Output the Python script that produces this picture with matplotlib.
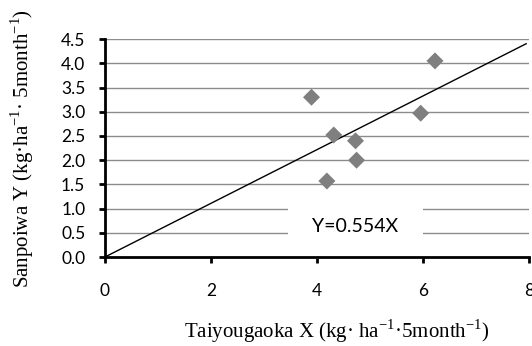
import matplotlib
matplotlib.use("Agg")
import matplotlib.pyplot as plt
import numpy as np

# data
taiyougaoka_x = [3.90, 4.32, 4.73, 4.75, 4.19, 5.96, 6.23]
sanpoiwa_y = [3.30, 2.52, 2.40, 2.00, 1.57, 2.97, 4.05]
slope = 0.554
line_x = [0.0, 7.95]
y_ticks = [0.0, 0.5, 1.0, 1.5, 2.0, 2.5, 3.0, 3.5, 4.0, 4.5]
x_ticks = [0, 2, 4, 6, 8]

plt.rcParams["mathtext.fontset"] = "custom"
plt.rcParams["mathtext.rm"] = "Liberation Serif"

fig = plt.figure(figsize=(5.32, 3.46), dpi=100)
ax = fig.add_axes([0.197, 0.257, 0.797, 0.63])

ax.set_xlim(0, 8)
ax.set_ylim(0, 4.5)

for yv in y_ticks[1:]:
    ax.axhline(yv, color="#8c8c8c", lw=1.0, zorder=1)

lx = np.array(line_x)
ax.plot(lx, slope * lx, color="black", lw=1.0, zorder=3)

ax.scatter(taiyougaoka_x, sanpoiwa_y, marker="D", s=75, color="#7f7f7f",
           edgecolors="none", zorder=4)

# equation label, white box hides the gridlines behind it
ax.text(4.73, 0.64, "Y=0.554X", ha="center", va="center", fontsize=14,
        family="Lato", zorder=5,
        bbox=dict(boxstyle="square,pad=1.25", fc="white", ec="none"))

ax.set_xticks(x_ticks)
ax.set_yticks(y_ticks)
ax.set_yticklabels(["%.1f" % v for v in y_ticks])
for lab in ax.get_xticklabels() + ax.get_yticklabels():
    lab.set_family("Lato")
    lab.set_fontsize(12.5)

ax.tick_params(axis="both", direction="out", length=4, width=2, color="black")
ax.tick_params(axis="x", pad=15)
ax.tick_params(axis="y", pad=10)

for s in ["top", "right"]:
    ax.spines[s].set_visible(False)
for s in ["left", "bottom"]:
    ax.spines[s].set_linewidth(2)
    ax.spines[s].set_zorder(6)

ax.set_xlabel("Taiyougaoka X (kg· ha$^{\\mathregular{-1}}$·5month$^{\\mathregular{-1}}$)",
              family="Liberation Serif", fontsize=15)
ax.xaxis.set_label_coords(0.547, -0.275)
ax.set_ylabel("Sanpoiwa Y (kg·ha$^{\\mathregular{-1}}$· 5month$^{\\mathregular{-1}}$)",
              family="Liberation Serif", fontsize=15, labelpad=18)

fig.patch.set_facecolor("white")
fig.savefig("out.png", dpi=100)
